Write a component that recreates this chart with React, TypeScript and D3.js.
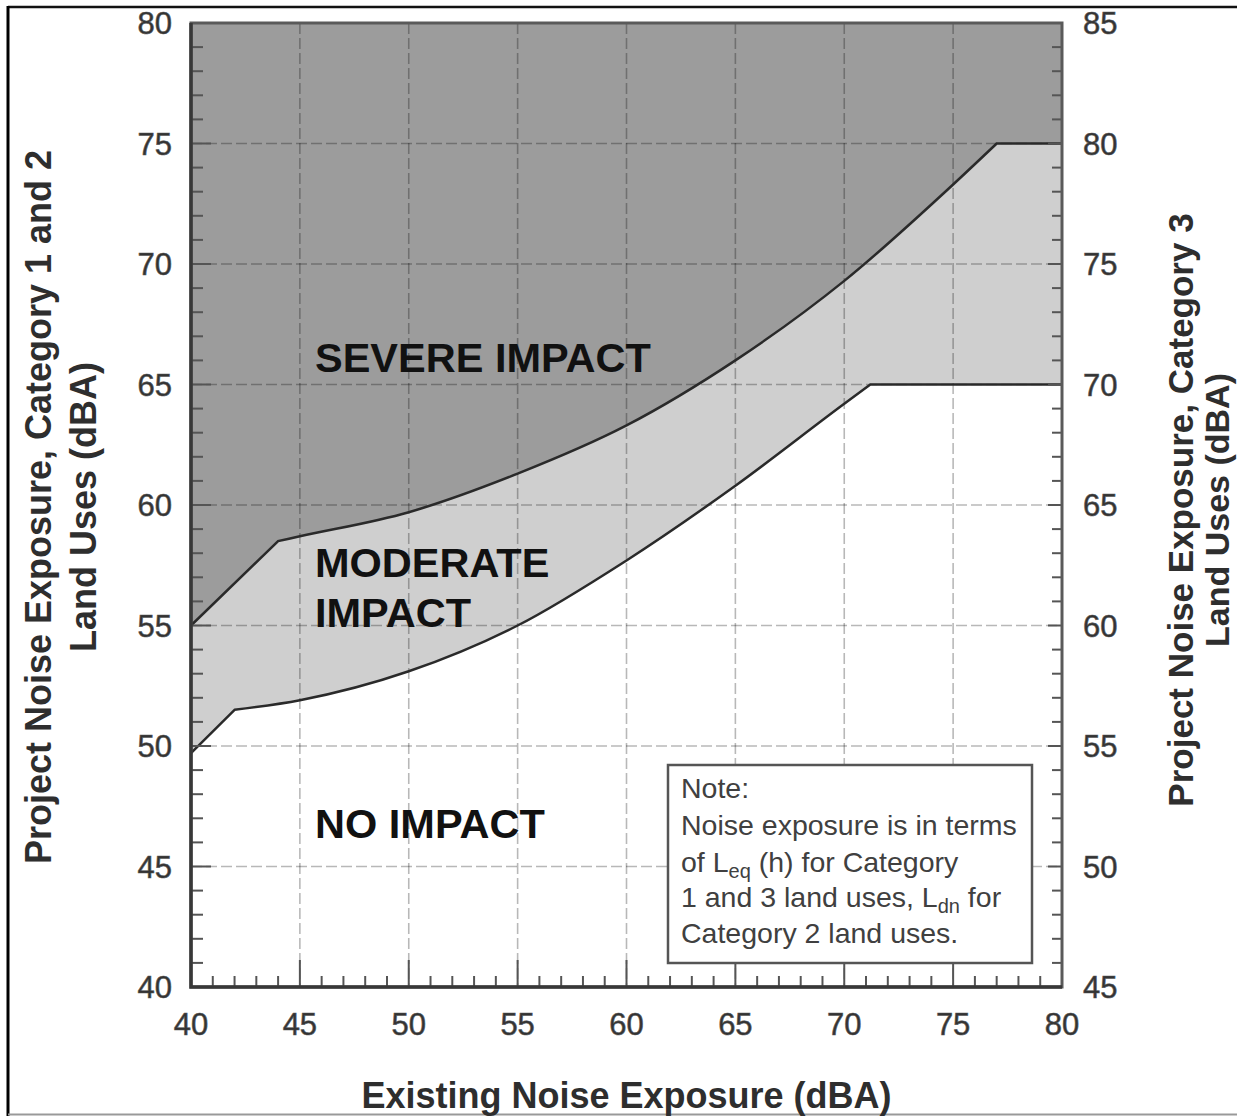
import React, { useEffect, useRef } from 'react';
import * as d3 from 'd3';

// axis ticks
const xTicks = [40, 45, 50, 55, 60, 65, 70, 75, 80];
const leftTicks = [40, 45, 50, 55, 60, 65, 70, 75, 80];
const rightTicks = [45, 50, 55, 60, 65, 70, 75, 80, 85];

// severe impact threshold (upper boundary)
const severeX = [40, 44, 45, 50, 55, 60, 65, 70, 75, 77, 80];
const severeY = [55, 58.5, 58.7, 59.7, 61.3, 63.3, 66.0, 69.3, 73.3, 75, 75];
const severeKinks = [1, 9];

// moderate impact threshold (lower boundary)
const moderateX = [40, 42, 45, 50, 55, 60, 65, 70, 71.2, 80];
const moderateY = [49.7, 51.5, 51.9, 53.1, 55.0, 57.7, 60.8, 64.2, 65, 65];
const moderateKinks = [1, 8];

const App: React.FC = () => {
  const svgRef = useRef<SVGSVGElement>(null);

  useEffect(() => {
    if (!svgRef.current) return;
    const width = 1237;
    const height = 1116;
    const left = 191, right = 1062, top = 23, bottom = 987;

    const svg = d3.select(svgRef.current).html('');

    const x = d3.scaleLinear().domain([40, 80]).range([left, right]);
    const y = d3.scaleLinear().domain([40, 80]).range([bottom, top]);
    const yR = d3.scaleLinear().domain([45, 85]).range([bottom, top]);

    type P = [number, number];
    const buildPath = (xs: number[], ys: number[], kinks: number[]) => {
      const pts: P[] = xs.map((v, i) => [x(v), y(ys[i])]);
      const lin = d3.line<P>().curve(d3.curveLinear);
      const smooth = d3.line<P>().curve(d3.curveMonotoneX);
      const a = lin(pts.slice(0, kinks[0] + 1)) || '';
      const b = (smooth(pts.slice(kinks[0], kinks[1] + 1)) || '').replace(/^M/, 'L');
      const c = (lin(pts.slice(kinks[1])) || '').replace(/^M/, 'L');
      return a + b + c;
    };

    const severePath = buildPath(severeX, severeY, severeKinks);
    const moderatePath = buildPath(moderateX, moderateY, moderateKinks);
    const close = `L${x(80)},${y(40)}L${x(40)},${y(40)}Z`;

    // frame of the figure
    svg.append('line').attr('x1', 8).attr('x2', width).attr('y1', 7).attr('y2', 7)
      .attr('stroke', '#111').attr('stroke-width', 2.5);
    svg.append('line').attr('x1', 8).attr('x2', 8).attr('y1', 6).attr('y2', height)
      .attr('stroke', '#000').attr('stroke-width', 3);
    svg.append('line').attr('x1', 8).attr('x2', width).attr('y1', 1114.5).attr('y2', 1114.5)
      .attr('stroke', '#999').attr('stroke-width', 2);

    // regions
    svg.append('rect')
      .attr('x', left).attr('y', top).attr('width', right - left).attr('height', bottom - top)
      .attr('fill', '#9c9c9c');
    svg.append('path').attr('d', severePath + close).attr('fill', '#cfcfcf');
    svg.append('path').attr('d', moderatePath + close).attr('fill', '#ffffff');

    // grid
    const grid = svg.append('g')
      .attr('stroke', 'rgba(0,0,0,0.28)')
      .attr('stroke-width', 1.6)
      .attr('stroke-dasharray', '11,4');
    xTicks.slice(1, -1).forEach(v => {
      grid.append('line').attr('x1', x(v)).attr('x2', x(v)).attr('y1', top).attr('y2', bottom);
    });
    leftTicks.slice(1, -1).forEach(v => {
      grid.append('line').attr('x1', left).attr('x2', right).attr('y1', y(v)).attr('y2', y(v));
    });

    // boundary lines
    [severePath, moderatePath].forEach(d => {
      svg.append('path').attr('d', d).attr('fill', 'none')
        .attr('stroke', '#2a2a2a').attr('stroke-width', 2.5);
    });

    // minor / major ticks
    const ticks = svg.append('g').attr('stroke', '#555').attr('stroke-width', 2);
    d3.range(41, 80).forEach(v => {
      const major = v % 5 === 0;
      ticks.append('line').attr('x1', left).attr('x2', left + (major ? 20 : 12))
        .attr('y1', y(v)).attr('y2', y(v));
      ticks.append('line').attr('x1', right).attr('x2', right - (major ? 14 : 10))
        .attr('y1', y(v)).attr('y2', y(v));
      ticks.append('line').attr('x1', x(v)).attr('x2', x(v))
        .attr('y1', bottom).attr('y2', bottom - (major ? 27 : 11));
    });

    // plot frame
    svg.append('rect')
      .attr('x', left).attr('y', top).attr('width', right - left).attr('height', bottom - top)
      .attr('fill', 'none').attr('stroke', '#5a5a5a').attr('stroke-width', 3);
    svg.append('path')
      .attr('d', `M${left},${top}L${left},${bottom}L${right},${bottom}`)
      .attr('fill', 'none').attr('stroke', '#383838').attr('stroke-width', 3.5);

    const font = 'Liberation Sans, Arial, Helvetica, sans-serif';

    // tick labels
    const labels = svg.append('g')
      .attr('font-family', font).attr('font-size', 31).attr('fill', '#333')
      .attr('stroke', '#555').attr('stroke-width', 0.6);
    leftTicks.forEach(v => {
      labels.append('text').attr('x', 172).attr('y', y(v) + 11)
        .attr('text-anchor', 'end').text(v);
    });
    rightTicks.forEach(v => {
      labels.append('text').attr('x', 1083).attr('y', yR(v) + 11)
        .attr('text-anchor', 'start').text(v);
    });
    xTicks.forEach(v => {
      labels.append('text').attr('x', x(v)).attr('y', 1035)
        .attr('text-anchor', 'middle').text(v);
    });

    // axis titles
    const titles = svg.append('g')
      .attr('font-family', font).attr('font-size', 36).attr('font-weight', 'bold')
      .attr('fill', '#2e2e2e').attr('text-anchor', 'middle');
    titles.append('text').attr('x', (left + right) / 2).attr('y', 1108)
      .text('Existing Noise Exposure (dBA)');
    titles.append('text').attr('transform', `translate(51,507) rotate(-90)`)
      .text('Project Noise Exposure, Category 1 and 2');
    titles.append('text').attr('transform', `translate(96,507) rotate(-90)`)
      .text('Land Uses (dBA)');
    titles.append('text').attr('transform', `translate(1193,510) rotate(-90)`)
      .attr('font-size', 35).text('Project Noise Exposure, Category 3');
    titles.append('text').attr('transform', `translate(1229,510) rotate(-90)`)
      .attr('font-size', 34).text('Land Uses (dBA)');

    // region labels
    const region = svg.append('g')
      .attr('font-family', font).attr('font-size', 41.5).attr('font-weight', 'bold')
      .attr('fill', '#111');
    region.append('text').attr('x', 315).attr('y', 372).text('SEVERE IMPACT');
    region.append('text').attr('x', 315).attr('y', 577).text('MODERATE');
    region.append('text').attr('x', 315).attr('y', 627).text('IMPACT');
    region.append('text').attr('x', 315).attr('y', 838).text('NO IMPACT');

    // note box
    svg.append('rect')
      .attr('x', 668).attr('y', 765).attr('width', 364).attr('height', 198)
      .attr('fill', '#fff').attr('stroke', '#555').attr('stroke-width', 2.5);
    const note = svg.append('g')
      .attr('font-family', font).attr('font-size', 28.5).attr('fill', '#404040');
    note.append('text').attr('x', 681).attr('y', 798).text('Note:');
    note.append('text').attr('x', 681).attr('y', 835).text('Noise exposure is in terms');
    const l3 = note.append('text').attr('x', 681).attr('y', 872);
    l3.append('tspan').text('of L');
    l3.append('tspan').attr('font-size', 20).attr('dy', 6).text('eq');
    l3.append('tspan').attr('dy', -6).text(' (h) for Category');
    const l4 = note.append('text').attr('x', 681).attr('y', 907);
    l4.append('tspan').text('1 and 3 land uses, L');
    l4.append('tspan').attr('font-size', 20).attr('dy', 6).text('dn');
    l4.append('tspan').attr('dy', -6).text(' for');
    note.append('text').attr('x', 681).attr('y', 943).text('Category 2 land uses.');
  }, []);

  return (
    <svg
      ref={svgRef}
      width={1237}
      height={1116}
      style={{ position: 'absolute', left: 0, top: 0, background: '#fff' }}
    />
  );
};

export default App;
